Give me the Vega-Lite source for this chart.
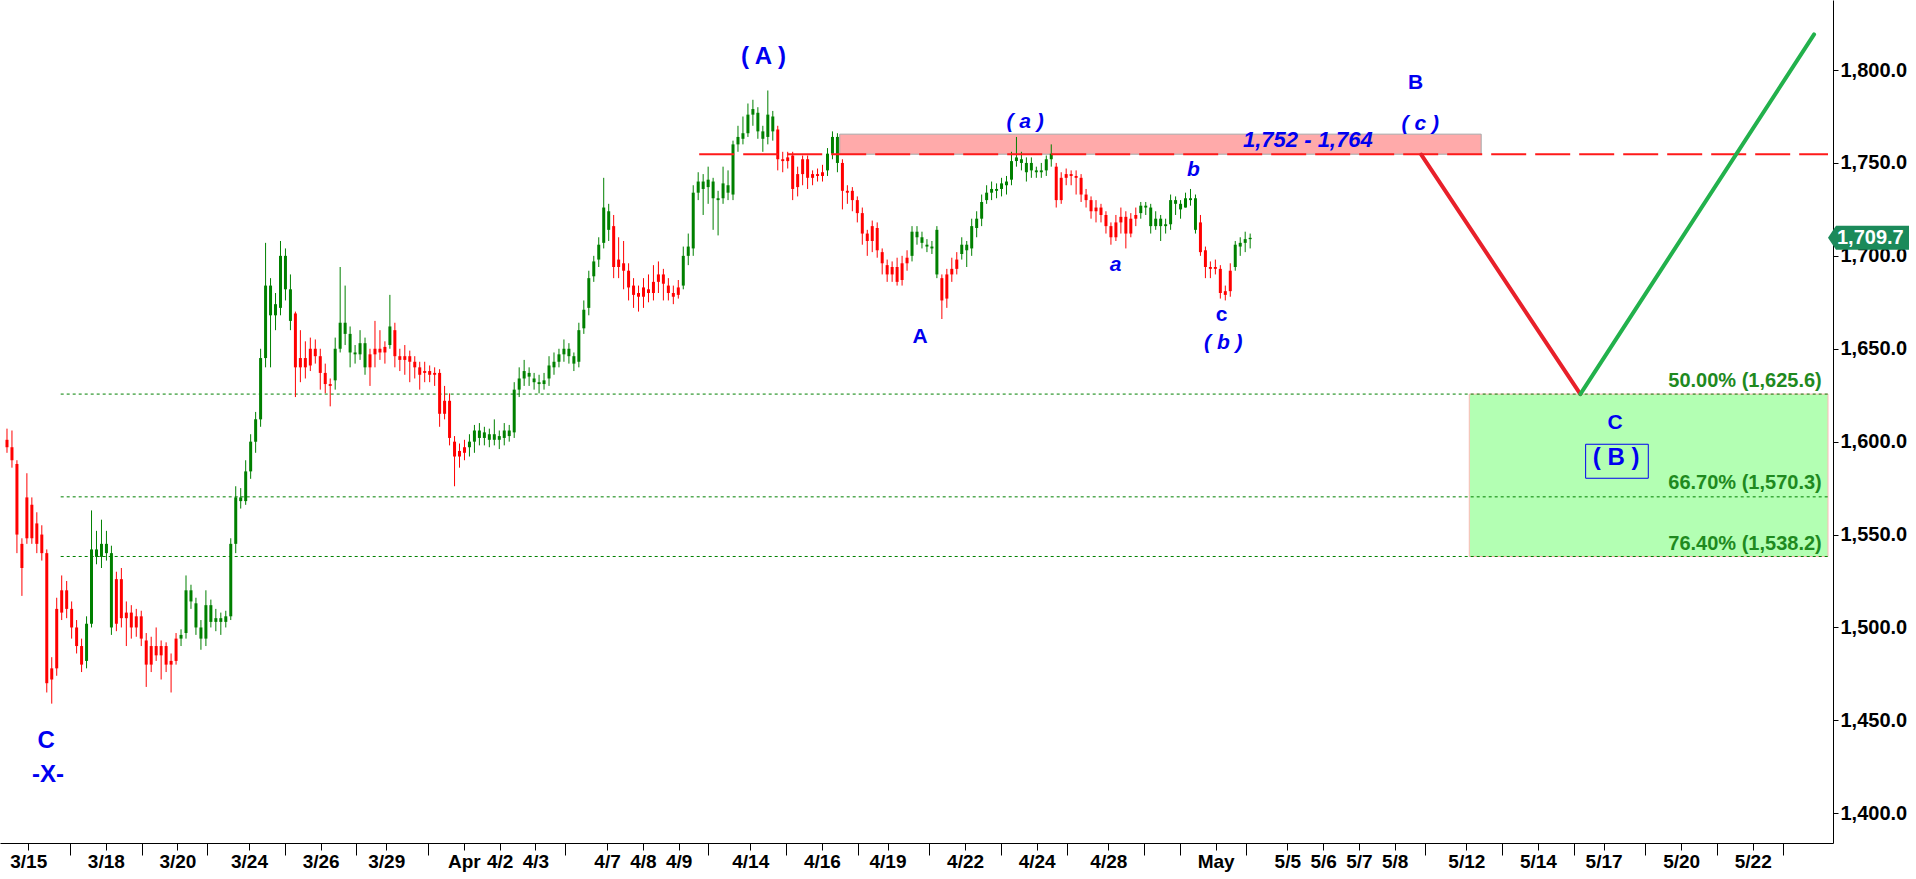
{
"$schema": "https://vega.github.io/schema/vega-lite/v6.json",
"width": 1833, "height": 843,
"autosize": {"type": "none"},
"padding": {"left": 0, "top": 0, "right": 83, "bottom": 36},
"background": "white",
"config": {"view": {"stroke": null}, "axis": {"labelOverlap": false, "labelFlush": false}},
"datasets": {
"bars": [
{"t":0,"o":1601,"c":1597,"h":1607,"l":1594,"s":"d"},
{"t":1,"o":1597,"c":1590,"h":1606,"l":1586,"s":"d"},
{"t":2,"o":1588,"c":1550,"h":1590,"l":1540,"s":"d"},
{"t":3,"o":1545,"c":1532,"h":1548,"l":1517,"s":"d"},
{"t":4,"o":1548,"c":1570,"h":1583,"l":1545,"s":"d"},
{"t":5,"o":1566,"c":1548,"h":1570,"l":1545,"s":"d"},
{"t":6,"o":1545,"c":1556,"h":1562,"l":1540,"s":"d"},
{"t":7,"o":1550,"c":1540,"h":1555,"l":1536,"s":"d"},
{"t":8,"o":1540,"c":1470,"h":1542,"l":1465,"s":"d"},
{"t":9,"o":1472,"c":1478,"h":1484,"l":1459,"s":"d"},
{"t":10,"o":1478,"c":1510,"h":1516,"l":1474,"s":"d"},
{"t":11,"o":1508,"c":1520,"h":1528,"l":1504,"s":"d"},
{"t":12,"o":1520,"c":1510,"h":1525,"l":1505,"s":"d"},
{"t":13,"o":1510,"c":1500,"h":1514,"l":1494,"s":"d"},
{"t":14,"o":1500,"c":1490,"h":1504,"l":1486,"s":"d"},
{"t":15,"o":1490,"c":1480,"h":1494,"l":1476,"s":"d"},
{"t":16,"o":1482,"c":1502,"h":1506,"l":1478,"s":"u"},
{"t":17,"o":1502,"c":1542,"h":1563,"l":1500,"s":"u"},
{"t":18,"o":1542,"c":1538,"h":1552,"l":1534,"s":"u"},
{"t":19,"o":1538,"c":1545,"h":1558,"l":1532,"s":"u"},
{"t":20,"o":1545,"c":1540,"h":1552,"l":1536,"s":"u"},
{"t":21,"o":1540,"c":1500,"h":1544,"l":1496,"s":"u"},
{"t":22,"o":1502,"c":1526,"h":1530,"l":1498,"s":"d"},
{"t":23,"o":1526,"c":1505,"h":1532,"l":1500,"s":"d"},
{"t":24,"o":1505,"c":1508,"h":1514,"l":1490,"s":"d"},
{"t":25,"o":1508,"c":1500,"h":1512,"l":1494,"s":"d"},
{"t":26,"o":1500,"c":1506,"h":1510,"l":1495,"s":"d"},
{"t":27,"o":1506,"c":1494,"h":1509,"l":1490,"s":"d"},
{"t":28,"o":1493,"c":1480,"h":1497,"l":1468,"s":"d"},
{"t":29,"o":1480,"c":1490,"h":1495,"l":1476,"s":"d"},
{"t":30,"o":1490,"c":1485,"h":1500,"l":1482,"s":"d"},
{"t":31,"o":1485,"c":1490,"h":1493,"l":1472,"s":"d"},
{"t":32,"o":1490,"c":1480,"h":1492,"l":1476,"s":"d"},
{"t":33,"o":1480,"c":1482,"h":1486,"l":1465,"s":"d"},
{"t":34,"o":1482,"c":1494,"h":1497,"l":1480,"s":"d"},
{"t":35,"o":1494,"c":1496,"h":1499,"l":1490,"s":"u"},
{"t":36,"o":1497,"c":1520,"h":1528,"l":1494,"s":"u"},
{"t":37,"o":1520,"c":1514,"h":1523,"l":1510,"s":"u"},
{"t":38,"o":1513,"c":1500,"h":1516,"l":1496,"s":"u"},
{"t":39,"o":1500,"c":1494,"h":1504,"l":1488,"s":"u"},
{"t":40,"o":1494,"c":1512,"h":1520,"l":1490,"s":"u"},
{"t":41,"o":1512,"c":1503,"h":1515,"l":1500,"s":"u"},
{"t":42,"o":1503,"c":1505,"h":1510,"l":1498,"s":"u"},
{"t":43,"o":1505,"c":1503,"h":1508,"l":1496,"s":"u"},
{"t":44,"o":1503,"c":1506,"h":1509,"l":1500,"s":"u"},
{"t":45,"o":1506,"c":1545,"h":1548,"l":1504,"s":"u"},
{"t":46,"o":1545,"c":1570,"h":1576,"l":1540,"s":"u"},
{"t":47,"o":1570,"c":1568,"h":1575,"l":1564,"s":"u"},
{"t":48,"o":1568,"c":1584,"h":1590,"l":1566,"s":"u"},
{"t":49,"o":1584,"c":1600,"h":1604,"l":1580,"s":"u"},
{"t":50,"o":1600,"c":1612,"h":1616,"l":1594,"s":"u"},
{"t":51,"o":1612,"c":1645,"h":1650,"l":1608,"s":"u"},
{"t":52,"o":1645,"c":1684,"h":1707,"l":1640,"s":"u"},
{"t":53,"o":1684,"c":1668,"h":1688,"l":1640,"s":"u"},
{"t":54,"o":1668,"c":1674,"h":1680,"l":1660,"s":"u"},
{"t":55,"o":1672,"c":1700,"h":1708,"l":1668,"s":"u"},
{"t":56,"o":1700,"c":1682,"h":1704,"l":1676,"s":"u"},
{"t":57,"o":1682,"c":1665,"h":1690,"l":1660,"s":"u"},
{"t":58,"o":1669,"c":1640,"h":1670,"l":1624,"s":"d"},
{"t":59,"o":1640,"c":1645,"h":1660,"l":1632,"s":"d"},
{"t":60,"o":1645,"c":1640,"h":1654,"l":1634,"s":"d"},
{"t":61,"o":1641,"c":1650,"h":1656,"l":1638,"s":"d"},
{"t":62,"o":1650,"c":1646,"h":1655,"l":1642,"s":"d"},
{"t":63,"o":1646,"c":1637,"h":1650,"l":1628,"s":"d"},
{"t":64,"o":1637,"c":1631,"h":1642,"l":1626,"s":"d"},
{"t":65,"o":1631,"c":1630,"h":1634,"l":1619,"s":"d"},
{"t":66,"o":1633,"c":1650,"h":1656,"l":1628,"s":"u"},
{"t":67,"o":1650,"c":1664,"h":1694,"l":1648,"s":"u"},
{"t":68,"o":1664,"c":1658,"h":1684,"l":1652,"s":"u"},
{"t":69,"o":1658,"c":1648,"h":1662,"l":1640,"s":"u"},
{"t":70,"o":1648,"c":1647,"h":1652,"l":1642,"s":"u"},
{"t":71,"o":1647,"c":1653,"h":1660,"l":1644,"s":"u"},
{"t":72,"o":1653,"c":1640,"h":1656,"l":1636,"s":"u"},
{"t":73,"o":1640,"c":1647,"h":1650,"l":1630,"s":"d"},
{"t":74,"o":1647,"c":1650,"h":1665,"l":1640,"s":"d"},
{"t":75,"o":1650,"c":1648,"h":1660,"l":1644,"s":"d"},
{"t":76,"o":1648,"c":1651,"h":1654,"l":1642,"s":"d"},
{"t":77,"o":1652,"c":1662,"h":1679,"l":1650,"s":"u"},
{"t":78,"o":1660,"c":1646,"h":1664,"l":1640,"s":"d"},
{"t":79,"o":1646,"c":1644,"h":1650,"l":1638,"s":"d"},
{"t":80,"o":1644,"c":1646,"h":1652,"l":1636,"s":"d"},
{"t":81,"o":1646,"c":1643,"h":1649,"l":1632,"s":"d"},
{"t":82,"o":1643,"c":1640,"h":1646,"l":1634,"s":"d"},
{"t":83,"o":1640,"c":1636,"h":1643,"l":1628,"s":"d"},
{"t":84,"o":1637,"c":1638,"h":1643,"l":1632,"s":"d"},
{"t":85,"o":1638,"c":1636,"h":1641,"l":1632,"s":"d"},
{"t":86,"o":1636,"c":1637,"h":1640,"l":1630,"s":"d"},
{"t":87,"o":1637,"c":1615,"h":1639,"l":1608,"s":"d"},
{"t":88,"o":1615,"c":1622,"h":1630,"l":1612,"s":"d"},
{"t":89,"o":1622,"c":1602,"h":1626,"l":1598,"s":"d"},
{"t":90,"o":1600,"c":1592,"h":1603,"l":1576,"s":"d"},
{"t":91,"o":1592,"c":1595,"h":1599,"l":1586,"s":"d"},
{"t":92,"o":1594,"c":1597,"h":1601,"l":1590,"s":"d"},
{"t":93,"o":1597,"c":1600,"h":1604,"l":1592,"s":"u"},
{"t":94,"o":1600,"c":1606,"h":1609,"l":1594,"s":"u"},
{"t":95,"o":1606,"c":1602,"h":1610,"l":1598,"s":"u"},
{"t":96,"o":1602,"c":1605,"h":1608,"l":1598,"s":"u"},
{"t":97,"o":1604,"c":1601,"h":1607,"l":1597,"s":"u"},
{"t":98,"o":1601,"c":1604,"h":1612,"l":1598,"s":"u"},
{"t":99,"o":1603,"c":1601,"h":1606,"l":1596,"s":"u"},
{"t":100,"o":1602,"c":1606,"h":1610,"l":1598,"s":"u"},
{"t":101,"o":1606,"c":1603,"h":1609,"l":1600,"s":"u"},
{"t":102,"o":1605,"c":1628,"h":1632,"l":1602,"s":"u"},
{"t":103,"o":1628,"c":1634,"h":1640,"l":1624,"s":"u"},
{"t":104,"o":1634,"c":1638,"h":1644,"l":1630,"s":"u"},
{"t":105,"o":1637,"c":1635,"h":1640,"l":1630,"s":"u"},
{"t":106,"o":1634,"c":1632,"h":1637,"l":1628,"s":"u"},
{"t":107,"o":1632,"c":1631,"h":1636,"l":1626,"s":"u"},
{"t":108,"o":1631,"c":1633,"h":1637,"l":1628,"s":"u"},
{"t":109,"o":1634,"c":1641,"h":1646,"l":1630,"s":"u"},
{"t":110,"o":1640,"c":1643,"h":1648,"l":1636,"s":"u"},
{"t":111,"o":1643,"c":1647,"h":1650,"l":1640,"s":"u"},
{"t":112,"o":1647,"c":1650,"h":1655,"l":1643,"s":"u"},
{"t":113,"o":1650,"c":1646,"h":1653,"l":1642,"s":"u"},
{"t":114,"o":1646,"c":1642,"h":1648,"l":1638,"s":"u"},
{"t":115,"o":1643,"c":1660,"h":1664,"l":1640,"s":"u"},
{"t":116,"o":1661,"c":1671,"h":1676,"l":1658,"s":"u"},
{"t":117,"o":1672,"c":1688,"h":1692,"l":1668,"s":"u"},
{"t":118,"o":1689,"c":1697,"h":1700,"l":1686,"s":"u"},
{"t":119,"o":1698,"c":1706,"h":1710,"l":1694,"s":"u"},
{"t":120,"o":1707,"c":1726,"h":1742,"l":1704,"s":"u"},
{"t":121,"o":1724,"c":1714,"h":1728,"l":1708,"s":"u"},
{"t":122,"o":1716,"c":1694,"h":1722,"l":1688,"s":"d"},
{"t":123,"o":1694,"c":1698,"h":1710,"l":1688,"s":"d"},
{"t":124,"o":1696,"c":1692,"h":1708,"l":1682,"s":"d"},
{"t":125,"o":1692,"c":1683,"h":1696,"l":1676,"s":"d"},
{"t":126,"o":1684,"c":1679,"h":1688,"l":1672,"s":"d"},
{"t":127,"o":1680,"c":1678,"h":1684,"l":1670,"s":"d"},
{"t":128,"o":1678,"c":1683,"h":1688,"l":1672,"s":"d"},
{"t":129,"o":1682,"c":1680,"h":1690,"l":1675,"s":"d"},
{"t":130,"o":1680,"c":1686,"h":1695,"l":1676,"s":"d"},
{"t":131,"o":1686,"c":1690,"h":1697,"l":1680,"s":"d"},
{"t":132,"o":1690,"c":1685,"h":1693,"l":1676,"s":"d"},
{"t":133,"o":1684,"c":1680,"h":1688,"l":1676,"s":"d"},
{"t":134,"o":1680,"c":1678,"h":1684,"l":1674,"s":"d"},
{"t":135,"o":1679,"c":1683,"h":1687,"l":1677,"s":"d"},
{"t":136,"o":1684,"c":1700,"h":1705,"l":1682,"s":"u"},
{"t":137,"o":1700,"c":1705,"h":1712,"l":1695,"s":"u"},
{"t":138,"o":1704,"c":1734,"h":1738,"l":1700,"s":"u"},
{"t":139,"o":1734,"c":1740,"h":1745,"l":1730,"s":"u"},
{"t":140,"o":1740,"c":1736,"h":1744,"l":1722,"s":"u"},
{"t":141,"o":1737,"c":1741,"h":1748,"l":1728,"s":"u"},
{"t":142,"o":1740,"c":1731,"h":1742,"l":1714,"s":"u"},
{"t":143,"o":1731,"c":1730,"h":1735,"l":1711,"s":"u"},
{"t":144,"o":1731,"c":1739,"h":1748,"l":1728,"s":"u"},
{"t":145,"o":1738,"c":1734,"h":1746,"l":1730,"s":"u"},
{"t":146,"o":1733,"c":1760,"h":1762,"l":1730,"s":"u"},
{"t":147,"o":1760,"c":1764,"h":1770,"l":1756,"s":"u"},
{"t":148,"o":1763,"c":1766,"h":1775,"l":1760,"s":"u"},
{"t":149,"o":1766,"c":1776,"h":1782,"l":1764,"s":"u"},
{"t":150,"o":1776,"c":1779,"h":1784,"l":1770,"s":"u"},
{"t":151,"o":1777,"c":1767,"h":1780,"l":1763,"s":"u"},
{"t":152,"o":1767,"c":1763,"h":1770,"l":1756,"s":"u"},
{"t":153,"o":1764,"c":1776,"h":1789,"l":1760,"s":"u"},
{"t":154,"o":1775,"c":1767,"h":1778,"l":1762,"s":"u"},
{"t":155,"o":1768,"c":1752,"h":1770,"l":1746,"s":"d"},
{"t":156,"o":1752,"c":1751,"h":1756,"l":1745,"s":"d"},
{"t":157,"o":1751,"c":1753,"h":1756,"l":1747,"s":"d"},
{"t":158,"o":1754,"c":1736,"h":1756,"l":1730,"s":"d"},
{"t":159,"o":1737,"c":1744,"h":1748,"l":1732,"s":"d"},
{"t":160,"o":1744,"c":1752,"h":1754,"l":1738,"s":"d"},
{"t":161,"o":1752,"c":1742,"h":1754,"l":1736,"s":"d"},
{"t":162,"o":1742,"c":1744,"h":1746,"l":1738,"s":"d"},
{"t":163,"o":1744,"c":1743,"h":1747,"l":1740,"s":"d"},
{"t":164,"o":1743,"c":1745,"h":1749,"l":1740,"s":"d"},
{"t":165,"o":1746,"c":1755,"h":1758,"l":1743,"s":"u"},
{"t":166,"o":1755,"c":1764,"h":1767,"l":1752,"s":"u"},
{"t":167,"o":1764,"c":1750,"h":1766,"l":1745,"s":"u"},
{"t":168,"o":1750,"c":1735,"h":1752,"l":1725,"s":"d"},
{"t":169,"o":1735,"c":1734,"h":1738,"l":1728,"s":"d"},
{"t":170,"o":1735,"c":1730,"h":1737,"l":1724,"s":"d"},
{"t":171,"o":1730,"c":1723,"h":1732,"l":1718,"s":"d"},
{"t":172,"o":1723,"c":1712,"h":1726,"l":1706,"s":"d"},
{"t":173,"o":1712,"c":1708,"h":1714,"l":1700,"s":"d"},
{"t":174,"o":1708,"c":1716,"h":1719,"l":1702,"s":"d"},
{"t":175,"o":1715,"c":1703,"h":1718,"l":1699,"s":"d"},
{"t":176,"o":1702,"c":1696,"h":1704,"l":1690,"s":"d"},
{"t":177,"o":1695,"c":1690,"h":1698,"l":1686,"s":"d"},
{"t":178,"o":1690,"c":1694,"h":1697,"l":1686,"s":"d"},
{"t":179,"o":1694,"c":1686,"h":1699,"l":1684,"s":"d"},
{"t":180,"o":1687,"c":1696,"h":1700,"l":1684,"s":"d"},
{"t":181,"o":1696,"c":1699,"h":1703,"l":1692,"s":"d"},
{"t":182,"o":1700,"c":1713,"h":1716,"l":1697,"s":"u"},
{"t":183,"o":1713,"c":1710,"h":1716,"l":1706,"s":"u"},
{"t":184,"o":1710,"c":1707,"h":1713,"l":1704,"s":"u"},
{"t":185,"o":1706,"c":1705,"h":1709,"l":1702,"s":"u"},
{"t":186,"o":1705,"c":1704,"h":1708,"l":1701,"s":"u"},
{"t":187,"o":1690,"c":1714,"h":1716,"l":1688,"s":"u"},
{"t":188,"o":1688,"c":1676,"h":1690,"l":1666,"s":"d"},
{"t":189,"o":1677,"c":1690,"h":1693,"l":1672,"s":"d"},
{"t":190,"o":1690,"c":1693,"h":1699,"l":1686,"s":"d"},
{"t":191,"o":1693,"c":1698,"h":1702,"l":1690,"s":"d"},
{"t":192,"o":1701,"c":1706,"h":1710,"l":1698,"s":"u"},
{"t":193,"o":1706,"c":1703,"h":1708,"l":1694,"s":"u"},
{"t":194,"o":1704,"c":1716,"h":1720,"l":1700,"s":"u"},
{"t":195,"o":1715,"c":1720,"h":1724,"l":1710,"s":"u"},
{"t":196,"o":1720,"c":1729,"h":1733,"l":1716,"s":"u"},
{"t":197,"o":1730,"c":1734,"h":1738,"l":1728,"s":"u"},
{"t":198,"o":1734,"c":1736,"h":1740,"l":1730,"s":"u"},
{"t":199,"o":1736,"c":1735,"h":1739,"l":1731,"s":"u"},
{"t":200,"o":1736,"c":1739,"h":1742,"l":1732,"s":"u"},
{"t":201,"o":1738,"c":1740,"h":1743,"l":1733,"s":"u"},
{"t":202,"o":1741,"c":1751,"h":1756,"l":1738,"s":"u"},
{"t":203,"o":1751,"c":1753,"h":1764,"l":1748,"s":"u"},
{"t":204,"o":1752,"c":1750,"h":1756,"l":1746,"s":"u"},
{"t":205,"o":1750,"c":1745,"h":1753,"l":1740,"s":"u"},
{"t":206,"o":1746,"c":1750,"h":1753,"l":1742,"s":"u"},
{"t":207,"o":1745,"c":1746,"h":1748,"l":1742,"s":"u"},
{"t":208,"o":1745,"c":1746,"h":1750,"l":1742,"s":"u"},
{"t":209,"o":1746,"c":1752,"h":1754,"l":1743,"s":"u"},
{"t":210,"o":1752,"c":1755,"h":1760,"l":1748,"s":"u"},
{"t":211,"o":1748,"c":1730,"h":1750,"l":1726,"s":"d"},
{"t":212,"o":1730,"c":1742,"h":1745,"l":1728,"s":"d"},
{"t":213,"o":1742,"c":1744,"h":1747,"l":1738,"s":"d"},
{"t":214,"o":1744,"c":1743,"h":1746,"l":1738,"s":"d"},
{"t":215,"o":1743,"c":1742,"h":1746,"l":1733,"s":"d"},
{"t":216,"o":1742,"c":1733,"h":1744,"l":1729,"s":"d"},
{"t":217,"o":1733,"c":1730,"h":1736,"l":1726,"s":"d"},
{"t":218,"o":1730,"c":1724,"h":1732,"l":1720,"s":"d"},
{"t":219,"o":1724,"c":1726,"h":1730,"l":1718,"s":"d"},
{"t":220,"o":1726,"c":1722,"h":1728,"l":1718,"s":"d"},
{"t":221,"o":1722,"c":1716,"h":1724,"l":1712,"s":"d"},
{"t":222,"o":1716,"c":1710,"h":1718,"l":1706,"s":"d"},
{"t":223,"o":1710,"c":1718,"h":1722,"l":1708,"s":"d"},
{"t":224,"o":1718,"c":1721,"h":1726,"l":1712,"s":"d"},
{"t":225,"o":1721,"c":1712,"h":1724,"l":1704,"s":"d"},
{"t":226,"o":1712,"c":1720,"h":1723,"l":1710,"s":"d"},
{"t":227,"o":1720,"c":1722,"h":1726,"l":1716,"s":"d"},
{"t":228,"o":1723,"c":1727,"h":1729,"l":1720,"s":"u"},
{"t":229,"o":1727,"c":1726,"h":1729,"l":1722,"s":"u"},
{"t":230,"o":1726,"c":1716,"h":1728,"l":1712,"s":"u"},
{"t":231,"o":1716,"c":1720,"h":1724,"l":1714,"s":"u"},
{"t":232,"o":1720,"c":1716,"h":1722,"l":1708,"s":"u"},
{"t":233,"o":1716,"c":1717,"h":1720,"l":1712,"s":"u"},
{"t":234,"o":1717,"c":1730,"h":1733,"l":1714,"s":"u"},
{"t":235,"o":1730,"c":1728,"h":1732,"l":1722,"s":"u"},
{"t":236,"o":1728,"c":1725,"h":1730,"l":1720,"s":"u"},
{"t":237,"o":1726,"c":1731,"h":1734,"l":1726,"s":"u"},
{"t":238,"o":1731,"c":1730,"h":1736,"l":1727,"s":"u"},
{"t":239,"o":1731,"c":1714,"h":1733,"l":1712,"s":"u"},
{"t":240,"o":1718,"c":1702,"h":1722,"l":1700,"s":"d"},
{"t":241,"o":1703,"c":1694,"h":1705,"l":1688,"s":"d"},
{"t":242,"o":1694,"c":1693,"h":1697,"l":1688,"s":"d"},
{"t":243,"o":1694,"c":1693,"h":1698,"l":1690,"s":"d"},
{"t":244,"o":1693,"c":1680,"h":1695,"l":1677,"s":"d"},
{"t":245,"o":1681,"c":1679,"h":1684,"l":1676,"s":"d"},
{"t":246,"o":1681,"c":1692,"h":1696,"l":1678,"s":"d"},
{"t":247,"o":1694,"c":1706,"h":1708,"l":1692,"s":"u"},
{"t":248,"o":1705,"c":1707,"h":1710,"l":1700,"s":"u"},
{"t":249,"o":1707,"c":1709,"h":1713,"l":1702,"s":"u"},
{"t":250,"o":1709,"c":1709.7,"h":1712,"l":1704,"s":"u"}
],
"axisrow": [{"t": 0, "p": 1600}]
},
"layer": [
{"data": {"name": "axisrow"},
 "mark": {"type": "point", "opacity": 0},
 "encoding": {
  "x": {"field": "t", "type": "quantitative", "scale": {"domain": [-0.4, 366.2], "nice": false, "zero": false},
   "axis": {"orient": "bottom", "title": null, "grid": false, "tickCount": 200,
    "values": [4.27,12.67,19.87,27.07,34.27,40.27,48.67,55.87,63.07,70.27,76.27,84.67,91.87,99.07,106.27,112.27,120.67,127.87,135.07,141.07,149.47,156.67,163.87,171.07,177.07,185.47,192.67,199.87,207.07,213.07,221.47,228.67,235.87,243.07,249.07,257.47,264.67,271.87,279.07,285.07,293.47,300.67,307.87,315.07,321.07,329.47,336.67,343.87,351.07,357.07],
    "labelExpr": "indexof([4,20,34,49,63,76,92,99,106,121,128,135,149,164,177,193,207,221,243,257,265,272,279,293,308,321,337,351], round(datum.value)) < 0 ? '' : ['3/15','3/18','3/20','3/24','3/26','3/29','Apr','4/2','4/3','4/7','4/8','4/9','4/14','4/16','4/19','4/22','4/24','4/28','May','5/5','5/6','5/7','5/8','5/12','5/14','5/17','5/20','5/22'][indexof([4,20,34,49,63,76,92,99,106,121,128,135,149,164,177,193,207,221,243,257,265,272,279,293,308,321,337,351], round(datum.value))]",
    "tickSize": {"condition": {"test": "indexof([13,27,40,56,70,85,112,141,157,171,185,200,213,229,236,249,285,301,315,329,344,357], round(datum.value)) >= 0", "value": 12}, "value": 7},
    "labelFont": "Liberation Sans", "labelFontWeight": "bold", "labelColor": "black", "domainColor": "black", "tickColor": "black",
    "labelFontSize": 19, "labelPadding": 2, "labelOverlap": false, "labelFlush": false, "domainWidth": 1}},
  "y": {"field": "p", "type": "quantitative", "scale": {"domain": [1384.0, 1837.7], "nice": false, "zero": false},
   "axis": {"orient": "right", "title": null, "grid": false, "tickCount": 50, "values": [1400,1450,1500,1550,1600,1650,1700,1750,1800], "format": ",.1f",
    "labelFont": "Liberation Sans", "labelFontWeight": "bold", "labelColor": "black", "domainColor": "black", "tickColor": "black",
    "labelFontSize": 20, "tickSize": 5, "labelPadding": 2, "labelOverlap": false, "domainWidth": 1}}
 }},
{"data": {"values": [{"t": 294.06, "t2": 366.2, "p": 1625.6, "p2": 1538.2}]},
 "mark": {"type": "rect", "fill": "#b3ffb3", "stroke": "#ffb8b8", "strokeWidth": 1},
 "encoding": {
  "x": {"field": "t", "type": "quantitative"},
  "x2": {"field": "t2"},
  "y": {"field": "p", "type": "quantitative"},
  "y2": {"field": "p2"}
 }},
{"data": {"values": [{"t": 167.46, "t2": 296.46, "p": 1765.5, "p2": 1754.7}]},
 "mark": {"type": "rect", "fill": "#ffaaaa", "stroke": "#a8a8a8", "strokeWidth": 1},
 "encoding": {
  "x": {"field": "t", "type": "quantitative"},
  "x2": {"field": "t2"},
  "y": {"field": "p", "type": "quantitative"},
  "y2": {"field": "p2"}
 }},
{"data": {"values": [{"t": 10.8, "t2": 366.2, "p": 1625.6}, {"t": 10.8, "t2": 366.2, "p": 1570.3}, {"t": 10.8, "t2": 366.2, "p": 1538.2}]},
 "mark": {"type": "rule", "color": "#008000", "strokeWidth": 1, "strokeDash": [3, 3]},
 "encoding": {
  "x": {"field": "t", "type": "quantitative"},
  "x2": {"field": "t2"},
  "y": {"field": "p", "type": "quantitative"}
 }},
{"data": {"name": "bars"},
 "mark": {"type": "rule", "strokeWidth": 1},
 "encoding": {
  "x": {"field": "t", "type": "quantitative"},
  "y": {"field": "l", "type": "quantitative"},
  "y2": {"field": "h"},
  "color": {"field": "s", "type": "nominal", "scale": {"domain": ["u", "d"], "range": ["#008000", "#ff0000"]}, "legend": null}
 }},
{"data": {"name": "bars"},
 "mark": {"type": "bar", "size": 3},
 "encoding": {
  "x": {"field": "t", "type": "quantitative"},
  "y": {"field": "o", "type": "quantitative"},
  "y2": {"field": "c"},
  "color": {"field": "s", "type": "nominal", "scale": {"domain": ["u", "d"], "range": ["#008000", "#ff0000"]}, "legend": null}
 }},
{"data": {"values": [{"t": 139.2, "t2": 366.2, "p": 1754.7}]},
 "mark": {"type": "rule", "color": "#ff1a1a", "strokeWidth": 2, "strokeDash": [35, 9]},
 "encoding": {
  "x": {"field": "t", "type": "quantitative"},
  "x2": {"field": "t2"},
  "y": {"field": "p", "type": "quantitative"}
 }},
{"data": {"values": [{"t": 284.4, "p": 1754.5}, {"t": 316.4, "p": 1625.6}]},
 "mark": {"type": "line", "color": "#e8202a", "strokeWidth": 4, "strokeCap": "round"},
 "encoding": {
  "x": {"field": "t", "type": "quantitative"},
  "y": {"field": "p", "type": "quantitative"}
 }},
{"data": {"values": [{"t": 316.4, "p": 1625.6}, {"t": 363.4, "p": 1819.2}]},
 "mark": {"type": "line", "color": "#22b14c", "strokeWidth": 4, "strokeCap": "round"},
 "encoding": {
  "x": {"field": "t", "type": "quantitative"},
  "y": {"field": "p", "type": "quantitative"}
 }},
{"data": {"values": [{"t": 364.94, "p": 1632.6, "k": "50.00% (1,625.6)"}, {"t": 364.94, "p": 1577.6, "k": "66.70% (1,570.3)"}, {"t": 364.94, "p": 1544.9, "k": "76.40% (1,538.2)"}]},
 "mark": {"type": "text", "font": "Liberation Sans", "fontWeight": "bold", "fontSize": 20, "color": "#1f8a1f", "align": "right", "baseline": "middle"},
 "encoding": {
  "x": {"field": "t", "type": "quantitative"},
  "y": {"field": "p", "type": "quantitative"},
  "text": {"field": "k"}
 }},
{"data": {"values": [{"t": 152.14, "p": 1807.2, "k": "( A )"}, {"t": 323.6, "p": 1591.0, "k": "( B )"}, {"t": 7.9, "p": 1439.1, "k": "C"}, {"t": 8.26, "p": 1420.6, "k": "-X-"}]},
 "mark": {"type": "text", "font": "Liberation Sans", "fontWeight": "bold", "fontSize": 24, "color": "#0000f0", "align": "center", "baseline": "middle"},
 "encoding": {
  "x": {"field": "t", "type": "quantitative"},
  "y": {"field": "p", "type": "quantitative"},
  "text": {"field": "k"}
 }},
{"data": {"values": [{"t": 183.6, "p": 1656.1, "k": "A"}, {"t": 283.26, "p": 1793.2, "k": "B"}, {"t": 323.4, "p": 1609.9, "k": "C"}, {"t": 244.26, "p": 1668.2, "k": "c"}]},
 "mark": {"type": "text", "font": "Liberation Sans", "fontWeight": "bold", "fontSize": 21, "color": "#0000f0", "align": "center", "baseline": "middle"},
 "encoding": {
  "x": {"field": "t", "type": "quantitative"},
  "y": {"field": "p", "type": "quantitative"},
  "text": {"field": "k"}
 }},
{"data": {"values": [{"t": 204.74, "p": 1772.2, "k": "( a )"}, {"t": 222.94, "p": 1695.1, "k": "a"}, {"t": 238.6, "p": 1746.2, "k": "b"}, {"t": 244.6, "p": 1652.9, "k": "( b )"}, {"t": 284.2, "p": 1771.0, "k": "( c )"}]},
 "mark": {"type": "text", "font": "Liberation Sans", "fontWeight": "bold", "fontStyle": "italic", "fontSize": 21, "color": "#0000f0", "align": "center", "baseline": "middle"},
 "encoding": {
  "x": {"field": "t", "type": "quantitative"},
  "y": {"field": "p", "type": "quantitative"},
  "text": {"field": "k"}
 }},
{"data": {"values": [{"t": 261.6, "p": 1762.3, "k": "1,752 - 1,764"}]},
 "mark": {"type": "text", "font": "Liberation Sans", "fontWeight": "bold", "fontStyle": "italic", "fontSize": 22, "color": "#0000f0", "align": "center", "baseline": "middle"},
 "encoding": {
  "x": {"field": "t", "type": "quantitative"},
  "y": {"field": "p", "type": "quantitative"},
  "text": {"field": "k"}
 }},
{"data": {"values": [{"t": 317.46, "t2": 330.06, "p": 1598.6, "p2": 1580.3}]},
 "mark": {"type": "rect", "fillOpacity": 0, "stroke": "#0000f0", "strokeWidth": 1},
 "encoding": {
  "x": {"field": "t", "type": "quantitative"},
  "x2": {"field": "t2"},
  "y": {"field": "p", "type": "quantitative"},
  "y2": {"field": "p2"}
 }},
{"data": {"values": [{"t": 366.2, "p": 1709.7, "k": "1,709.7"}]},
 "mark": {"type": "point", "shape": "M0,0L0.8,-1.2L8.1,-1.2L8.1,1.2L0.8,1.2Z", "size": 400, "filled": true, "fill": "#1b8a5a", "strokeWidth": 0, "opacity": 1},
 "encoding": {
  "x": {"field": "t", "type": "quantitative"},
  "y": {"field": "p", "type": "quantitative"}
 }},
{"data": {"values": [{"t": 366.2, "p": 1709.7, "k": "1,709.7"}]},
 "mark": {"type": "text", "font": "Liberation Sans", "fontWeight": "bold", "fontSize": 20, "color": "white", "align": "left", "baseline": "middle", "dx": 9},
 "encoding": {
  "x": {"field": "t", "type": "quantitative"},
  "y": {"field": "p", "type": "quantitative"},
  "text": {"field": "k"}
 }}
]
}
